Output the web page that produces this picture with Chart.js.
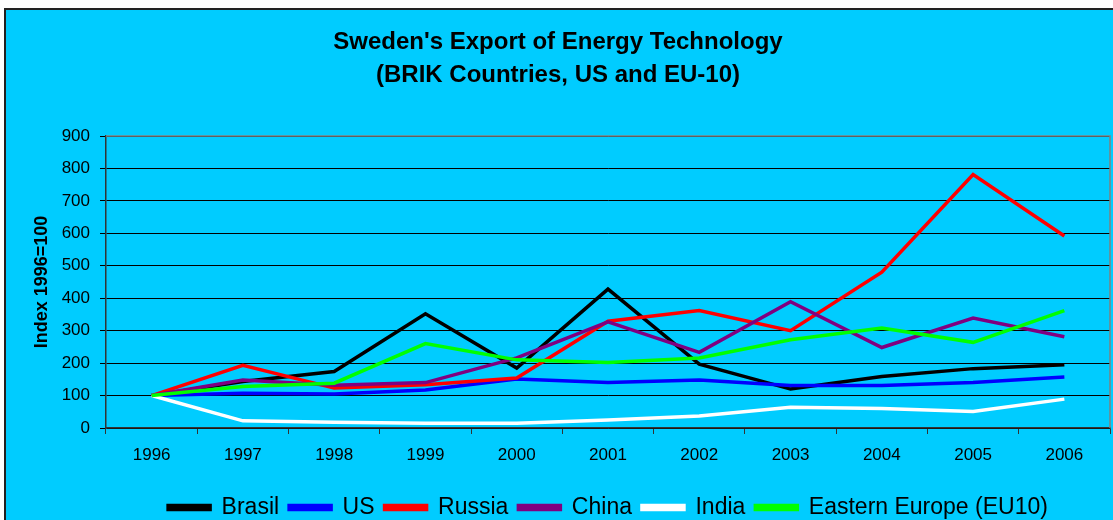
<!DOCTYPE html>
<html>
<head>
<meta charset="utf-8">
<script src="https://cdn.jsdelivr.net/npm/chart.js@4.4.1/dist/chart.umd.min.js"></script>
<style>
  body { margin: 0; background: #fff; overflow: hidden; }
  #frame {
    position: absolute; left: 4px; top: 8px;
    width: 1107px; height: 519px;
    background: #00CCFF;
    border-top: 2px solid #222; border-left: 2px solid #222;
    overflow: hidden;
  }
</style>
</head>
<body>
<div id="frame"><canvas id="exportChart" width="1107" height="519"></canvas></div>
<script>
var years = ['1996', '1997', '1998', '1999', '2000', '2001', '2002', '2003', '2004', '2005', '2006'];
var brasil = [100, 143, 174, 352, 185, 428, 197, 120, 159, 183, 195];
var us = [100, 107, 105, 117, 151, 140, 148, 131, 131, 140, 157];
var russia = [100, 193, 123, 133, 154, 329, 362, 300, 480, 781, 592];
var china = [100, 148, 132, 140, 216, 327, 233, 389, 248, 339, 281];
var india = [100, 22, 18, 15, 15, 25, 37, 64, 60, 51, 89];
var easternEurope = [100, 128, 138, 260, 210, 202, 216, 272, 308, 264, 362];
var yTicks = [0, 100, 200, 300, 400, 500, 600, 700, 800, 900];

var FONT = "'Liberation Sans', Arial, sans-serif";

function series(label, data, color, order) {
    return {
        label: label,
        data: data,
        borderColor: color,
        backgroundColor: color,
        borderWidth: 3.5,
        pointRadius: 0,
        tension: 0,
        order: order
    };
}

// grey frame on top and right of the plot area, like the Excel chart
var plotFrame = {
    id: 'plotFrame',
    afterLayout: function(chart) {
        // legend is centred under the plot area, not the whole canvas
        var lg = chart.legend, a = chart.chartArea;
        lg.left = a.left;
        lg.right = a.right;
        lg.width = a.right - a.left;
    },
    beforeDatasetsDraw: function(chart) {
        var a = chart.chartArea, ctx = chart.ctx;
        ctx.save();
        ctx.strokeStyle = '#808080';
        ctx.lineWidth = 1.5;
        ctx.beginPath();
        ctx.moveTo(a.left, a.top);
        ctx.lineTo(a.right, a.top);
        ctx.lineTo(a.right, a.bottom);
        ctx.stroke();
        ctx.restore();
    }
};

var ctx = document.getElementById('exportChart').getContext('2d');
var exportChart = new Chart(ctx, {
    type: 'line',
    data: {
        labels: years,
        datasets: [
            series('Brasil', brasil, '#000000', 6),
            series('US', us, '#0000FF', 5),
            series('Russia', russia, '#FF0000', 4),
            series('China', china, '#800080', 3),
            series('India', india, '#FFFFFF', 2),
            series('Eastern Europe (EU10)', easternEurope, '#00FF00', 1)
        ]
    },
    options: {
        responsive: false,
        animation: false,
        devicePixelRatio: 1,
        layout: { padding: { left: 0, right: 3, top: 0, bottom: 0 } },
        plugins: {
            title: {
                display: true,
                text: ["Sweden's Export of Energy Technology", '(BRIK Countries, US and EU-10)'],
                color: '#000',
                font: { family: FONT, size: 24, weight: 'bold', lineHeight: 1.375 },
                padding: { top: 16, bottom: 44 }
            },
            legend: {
                position: 'bottom',
                labels: {
                    color: '#000',
                    font: { family: FONT, size: 23 },
                    boxWidth: 42,
                    boxHeight: 4,
                    padding: 10,
                    sort: function(a, b) { return a.datasetIndex - b.datasetIndex; }
                }
            },
            tooltip: { enabled: false }
        },
        scales: {
            x: {
                offset: true,
                grid: { offset: true, drawOnChartArea: false, tickLength: 6, color: '#333' },
                border: { color: '#333', width: 1.5 },
                ticks: { color: '#000', font: { family: FONT, size: 17 }, padding: 11, maxRotation: 0 },
                afterFit: function(scale) { scale.height = 58; }
            },
            y: {
                min: 0,
                max: 900,
                afterBuildTicks: function(scale) {
                    scale.ticks = yTicks.map(function(v) { return { value: v }; });
                },
                grid: { color: '#000', lineWidth: 1, tickLength: 6 },
                border: { color: '#333', width: 1.5 },
                ticks: { color: '#000', font: { family: FONT, size: 17 }, padding: 10 },
                title: {
                    display: true,
                    text: 'Index 1996=100',
                    color: '#000',
                    font: { family: FONT, size: 18, weight: 'bold' },
                    padding: { top: 25, bottom: 0 }
                },
                afterFit: function(scale) { scale.width = 100; }
            }
        }
    },
    plugins: [plotFrame]
});
</script>
</body>
</html>
